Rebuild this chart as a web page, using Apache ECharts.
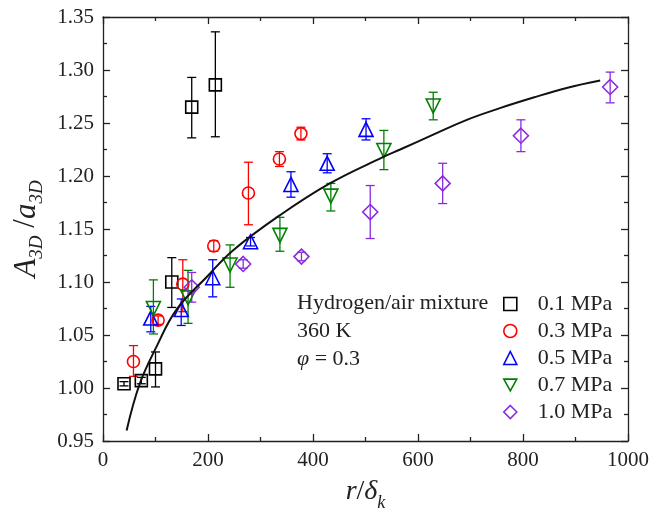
<!DOCTYPE html>
<html>
<head>
<meta charset="utf-8">
<script src="https://cdn.jsdelivr.net/npm/echarts@6/dist/echarts.min.js"></script>
<style>html,body{margin:0;padding:0;background:#fff}#c{width:668px;height:511px}</style>
</head>
<body>
<div id="c"></div>
<script>
// ---- data ----
var seriesNames = ['0.1 MPa', '0.3 MPa', '0.5 MPa', '0.7 MPa', '1.0 MPa'];
var xTicks = [0, 200, 400, 600, 800, 1000];
var yTicks = [0.95, 1.00, 1.05, 1.10, 1.15, 1.20, 1.25, 1.30, 1.35];

// 0.1 MPa : x, y, low, high
var x01 = [40, 73, 100, 131, 169, 214];
var y01 = [1.004, 1.007, 1.018, 1.100, 1.265, 1.286];
var lo01 = [1.002, 1.004, 1.001, 1.076, 1.236, 1.237];
var hi01 = [1.006, 1.010, 1.034, 1.123, 1.293, 1.336];

// 0.3 MPa
var x03 = [58, 105, 152, 211, 277, 336, 377];
var y03 = [1.025, 1.064, 1.098, 1.134, 1.184, 1.216, 1.240];
var lo03 = [1.011, 1.060, 1.072, 1.129, 1.154, 1.209, 1.234];
var hi03 = [1.040, 1.068, 1.121, 1.139, 1.213, 1.223, 1.246];

// 0.5 MPa
var x05 = [91, 149, 209, 281, 358, 427, 501];
var y05 = [1.066, 1.074, 1.104, 1.138, 1.192, 1.212, 1.244];
var lo05 = [1.053, 1.059, 1.086, 1.134, 1.180, 1.203, 1.234];
var hi05 = [1.077, 1.084, 1.121, 1.142, 1.204, 1.221, 1.254];

// 0.7 MPa
var x07 = [96, 162, 242, 337, 434, 535, 629];
var y07 = [1.075, 1.085, 1.116, 1.144, 1.181, 1.224, 1.266];
var lo07 = [1.051, 1.061, 1.095, 1.129, 1.167, 1.206, 1.253];
var hi07 = [1.102, 1.111, 1.135, 1.161, 1.193, 1.243, 1.279];

// 1.0 MPa
var x10 = [169, 267, 378, 509, 647, 796, 966];
var y10 = [1.095, 1.117, 1.124, 1.166, 1.193, 1.238, 1.284];
var lo10 = [1.081, 1.113, 1.120, 1.141, 1.174, 1.223, 1.269];
var hi10 = [1.109, 1.121, 1.128, 1.191, 1.212, 1.253, 1.298];

// fitted curve, points
var curveX = [45, 70, 102, 140, 198, 248, 337, 432, 534, 566, 629, 693, 756, 820, 883, 947];
var curveY = [0.960, 1.004, 1.039, 1.074, 1.105, 1.130, 1.163, 1.193, 1.218, 1.225, 1.239, 1.253, 1.264, 1.274, 1.283, 1.290];

// ---- chart ----
var colors = ['#000000', '#ff0000', '#0000ff', '#008000', '#8a2be2'];
var symbols = ['rect', 'circle', 'triangle', 'triangle', 'diamond'];
var legendIcons = ['rect', 'circle', 'triangle', 'path://M0,0 L10,0 L5,9 Z', 'diamond'];
var rotations = [0, 0, 0, 180, 0];
var sizes = [12, 12, 14, 14, 15];
var groups = [[x01, y01, lo01, hi01], [x03, y03, lo03, hi03], [x05, y05, lo05, hi05], [x07, y07, lo07, hi07], [x10, y10, lo10, hi10]];

var FONT = 'Liberation Serif';

function zip(a, b, c, d) {
  var out = [];
  for (var i = 0; i < a.length; i++) out.push(c ? [a[i], b[i], c[i], d[i]] : [a[i], b[i]]);
  return out;
}

function errRender(color) {
  return function (params, api) {
    var x = api.value(0), lo = api.value(2), hi = api.value(3);
    var p1 = api.coord([x, hi]), p2 = api.coord([x, lo]);
    var hw = 4.5;
    var st = { stroke: color, lineWidth: 1.3, fill: null };
    return {
      type: 'group',
      children: [
        { type: 'line', shape: { x1: p1[0], y1: p1[1], x2: p2[0], y2: p2[1] }, style: st },
        { type: 'line', shape: { x1: p1[0] - hw, y1: p1[1], x2: p1[0] + hw, y2: p1[1] }, style: st },
        { type: 'line', shape: { x1: p2[0] - hw, y1: p2[1], x2: p2[0] + hw, y2: p2[1] }, style: st }
      ]
    };
  };
}

var series = [];
groups.forEach(function (g, i) {
  series.push({
    name: seriesNames[i] + ' err',
    type: 'custom',
    renderItem: errRender(colors[i]),
    data: zip(g[0], g[1], g[2], g[3]),
    encode: { x: 0, y: 1 },
    z: 3,
    silent: true
  });
  series.push({
    name: seriesNames[i],
    type: 'scatter',
    symbol: symbols[i],
    symbolRotate: rotations[i],
    symbolSize: sizes[i],
    data: zip(g[0], g[1]),
    itemStyle: { color: 'rgba(255,255,255,0)', borderColor: colors[i], borderWidth: 1.6, opacity: 1 },
    z: 4
  });
});
series.push({
  name: 'fit',
  type: 'line',
  data: zip(curveX, curveY),
  smooth: 0.4,
  showSymbol: false,
  lineStyle: { color: '#111', width: 2 },
  z: 5
});

var legendData = seriesNames.map(function (n, i) {
  return { name: n, icon: legendIcons[i], itemStyle: { color: 'rgba(255,255,255,0)', borderColor: colors[i], borderWidth: 1.6 } };
});

var axisLineStyle = { color: '#222', width: 1.3 };
var chart = echarts.init(document.getElementById('c'), null, { renderer: 'canvas' });
chart.setOption({
  animation: false,
  backgroundColor: '#fff',
  grid: { left: 103, right: 40, top: 17, bottom: 70, containLabel: false, outerBoundsMode: 'none' },
  xAxis: [{
    type: 'value', min: xTicks[0], max: xTicks[xTicks.length - 1], interval: xTicks[1] - xTicks[0],
    position: 'bottom',
    axisLine: { show: true, onZero: false, lineStyle: axisLineStyle },
    axisTick: { show: true, inside: true, length: 7, lineStyle: axisLineStyle },
    minorTick: { show: true, splitNumber: 2, length: 4, lineStyle: axisLineStyle },
    splitLine: { show: false },
    axisLabel: { fontFamily: FONT, fontSize: 21, color: '#222', margin: 9, formatter: function (v) { return String(v); } },
    name: '{i|r}{n|/}{i|δ}{s|k}',
    nameLocation: 'middle',
    nameGap: 31,
    nameTextStyle: {
      rich: {
        i: { fontFamily: FONT, fontStyle: 'italic', fontSize: 28, color: '#222', lineHeight: 40 },
        n: { fontFamily: FONT, fontSize: 28, color: '#222', lineHeight: 40 },
        s: { fontFamily: FONT, fontStyle: 'italic', fontSize: 18, color: '#222', verticalAlign: 'bottom', lineHeight: 18 }
      }
    }
  }, {
    type: 'value', min: xTicks[0], max: xTicks[xTicks.length - 1], interval: xTicks[1] - xTicks[0],
    position: 'top',
    axisLine: { show: true, onZero: false, lineStyle: axisLineStyle },
    axisTick: { show: true, inside: true, length: 7, lineStyle: axisLineStyle },
    minorTick: { show: true, splitNumber: 2, length: 4, lineStyle: axisLineStyle },
    splitLine: { show: false },
    axisLabel: { show: false }
  }],
  yAxis: [{
    type: 'value', min: yTicks[0], max: yTicks[yTicks.length - 1], interval: 0.05,
    position: 'left',
    axisLine: { show: true, onZero: false, lineStyle: axisLineStyle },
    axisTick: { show: true, inside: true, length: 7, lineStyle: axisLineStyle },
    minorTick: { show: true, splitNumber: 2, length: 4, lineStyle: axisLineStyle },
    splitLine: { show: false },
    axisLabel: { fontFamily: FONT, fontSize: 21, color: '#222', margin: 9, formatter: function (v) { return v.toFixed(2); } },
    name: '{i|A}{s|3D}{n| /}{i|a}{s|3D}',
    nameLocation: 'middle',
    nameGap: 54,
    nameTextStyle: {
      rich: {
        i: { fontFamily: FONT, fontStyle: 'italic', fontSize: 31, color: '#222', lineHeight: 40 },
        n: { fontFamily: FONT, fontSize: 31, color: '#222', lineHeight: 40 },
        s: { fontFamily: FONT, fontStyle: 'italic', fontSize: 19, color: '#222', verticalAlign: 'bottom', lineHeight: 19 }
      }
    }
  }, {
    type: 'value', min: yTicks[0], max: yTicks[yTicks.length - 1], interval: 0.05,
    position: 'right',
    axisLine: { show: true, onZero: false, lineStyle: axisLineStyle },
    axisTick: { show: true, inside: true, length: 7, lineStyle: axisLineStyle },
    minorTick: { show: true, splitNumber: 2, length: 4, lineStyle: axisLineStyle },
    splitLine: { show: false },
    axisLabel: { show: false }
  }],
  legend: {
    data: legendData,
    orient: 'vertical',
    left: 498,
    top: 288,
    itemWidth: 13,
    itemHeight: 13,
    itemGap: 5,
    textStyle: { fontFamily: FONT, fontSize: 22, color: '#222', padding: [0, 0, 0, 16] }
  },
  graphic: [
    { type: 'text', left: 297, top: 292, style: { text: 'Hydrogen/air mixture', font: '22px "Liberation Serif"', fill: '#222' } },
    { type: 'text', left: 297, top: 320, style: { text: '360 K', font: '22px "Liberation Serif"', fill: '#222' } },
    { type: 'text', left: 297, top: 348, style: { text: '{i|φ} = 0.3', font: '22px "Liberation Serif"', fill: '#222',
      rich: { i: { fontFamily: FONT, fontStyle: 'italic', fontSize: 22, fill: '#222' } } } }
  ],
  series: series
});
</script>
</body>
</html>
